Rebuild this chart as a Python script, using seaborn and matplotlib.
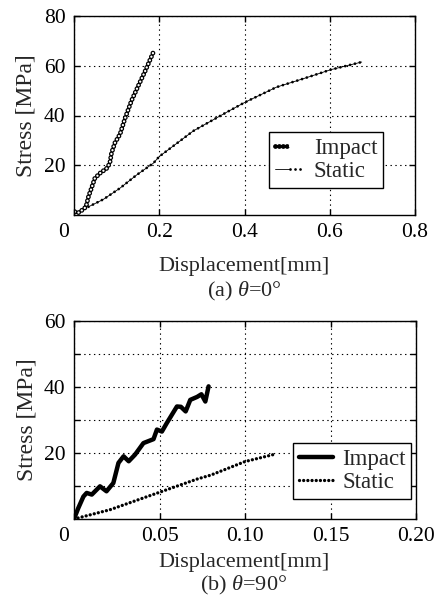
import seaborn as sns
import matplotlib
import matplotlib.pyplot as plt
import matplotlib.transforms as mtransforms
from matplotlib.lines import Line2D
from matplotlib.legend_handler import HandlerTuple
import pandas as pd
import numpy as np

# (a) theta = 0 deg
impact0_x = [0.002, 0.010, 0.022, 0.028, 0.034, 0.041, 0.049, 0.061, 0.077, 0.084,
             0.088, 0.096, 0.108, 0.120, 0.135, 0.151, 0.166, 0.182, 0.186]
impact0_y = [1.3, 0.9, 2.3, 3.3, 7.4, 10.8, 14.8, 16.8, 18.8, 20.8,
             24.9, 29.0, 32.5, 39.0, 46.0, 52.0, 57.5, 63.8, 65.4]
static0_x = [0.034, 0.069, 0.108, 0.147, 0.186, 0.200, 0.280, 0.358, 0.401, 0.475,
             0.538, 0.602, 0.675]
static0_y = [3.3, 6.3, 10.8, 16.1, 20.8, 23.5, 33.8, 41.3, 45.3, 51.4,
             54.8, 58.4, 61.5]

# (b) theta = 90 deg
impact90_x = [0.0, 0.0025, 0.0055, 0.0074, 0.0104, 0.0152, 0.019, 0.023, 0.026, 0.029,
              0.032, 0.0357, 0.0406, 0.0465, 0.0485, 0.0514, 0.0543, 0.0602, 0.0625,
              0.0653, 0.068, 0.072, 0.0745, 0.0768, 0.0787]
impact90_y = [0.0, 3.3, 6.8, 7.9, 7.4, 9.9, 8.4, 10.9, 17.0, 19.0,
              17.5, 19.5, 23.0, 24.2, 27.1, 26.5, 29.1, 34.1, 34.0,
              32.6, 36.1, 37.0, 37.8, 35.6, 40.2]
static90_x = [0.0, 0.021, 0.0445, 0.05, 0.072, 0.080, 0.100, 0.118]
static90_y = [0.0, 2.8, 7.1, 8.1, 12.1, 13.3, 17.4, 19.7]

sns.set_style("ticks")
plt.rcParams.update(
    {
        "font.family": ["Liberation Serif", "DejaVu Serif"],
        "mathtext.fontset": "custom",
        "mathtext.rm": "Liberation Serif",
        "mathtext.it": "Liberation Serif:italic",
        "font.size": 15.5,
        "lines.scale_dashes": False,
        "axes.edgecolor": "black",
        "axes.linewidth": 1.0,
        "xtick.direction": "in",
        "ytick.direction": "in",
        "xtick.color": "black",
        "ytick.color": "black",
        "xtick.major.size": 4,
        "ytick.major.size": 4,
    }
)

fig = plt.figure(figsize=(4.38, 6.08), dpi=100)
ax1 = fig.add_axes([74 / 438, 1 - 215 / 608, 341 / 438, 199 / 608])
ax2 = fig.add_axes([74 / 438, 1 - 519 / 608, 342 / 438, 198 / 608])

ring_out = (0, (0.01, 2.8))
dot_small = (0, (0.01, 3.6))
dot_b = (0, (0.01, 3.0))

# top panel
df_i0 = pd.DataFrame({"x": impact0_x, "y": impact0_y})
df_s0 = pd.DataFrame({"x": static0_x, "y": static0_y})
sns.lineplot(data=df_i0, x="x", y="y", ax=ax1, sort=False, estimator=None,
             color="black", lw=3.5, linestyle=ring_out, dash_capstyle="round")
sns.lineplot(data=df_i0, x="x", y="y", ax=ax1, sort=False, estimator=None,
             color="white", lw=1.7, linestyle=ring_out, dash_capstyle="round")
sns.lineplot(data=df_s0, x="x", y="y", ax=ax1, sort=False, estimator=None,
             color="black", lw=0.6)
sns.lineplot(data=df_s0, x="x", y="y", ax=ax1, sort=False, estimator=None,
             color="black", lw=2.0, linestyle=dot_small, dash_capstyle="round")

# bottom panel
df_i90 = pd.DataFrame({"x": impact90_x, "y": impact90_y})
df_s90 = pd.DataFrame({"x": static90_x, "y": static90_y})
sns.lineplot(data=df_i90, x="x", y="y", ax=ax2, sort=False, estimator=None,
             color="black", lw=3.2, solid_capstyle="round", solid_joinstyle="round")
sns.lineplot(data=df_s90, x="x", y="y", ax=ax2, sort=False, estimator=None,
             color="black", lw=2.4, linestyle=dot_b, dash_capstyle="round")

ax1.set_xlim(0, 0.8)
ax1.set_ylim(0, 80)
ax1.set_xticks([0, 0.2, 0.4, 0.6, 0.8])
ax1.set_xticklabels(["0", "0.2", "0.4", "0.6", "0.8"])
ax1.set_yticks([20, 40, 60, 80])
ax1.set_yticklabels(["20", "40", "60", "80"])

ax2.set_xlim(0, 0.2)
ax2.set_ylim(0, 60)
ax2.set_xticks([0, 0.05, 0.10, 0.15, 0.20])
ax2.set_xticklabels(["0", "0.05", "0.10", "0.15", "0.20"])
ax2.set_yticks([10, 20, 30, 40, 50, 60])
ax2.set_yticklabels(["", "20", "", "40", "", "60"])

for ax in (ax1, ax2):
    ax.grid(True, color="black", linestyle=(0, (1, 2.5)), lw=0.8)
    ax.tick_params(top=True, right=True, labelsize=15.5, pad=6, width=1)
    ax.set_xlabel("")
    ax.set_ylabel("Stress [MPa]", fontsize=17, labelpad=5)
    lbl = ax.get_xticklabels()[0]
    lbl.set_transform(lbl.get_transform()
                      + mtransforms.ScaledTranslation(-10 / 100, 0, fig.dpi_scale_trans))
    for s in ax.spines.values():
        s.set_visible(True)

# legends
h_imp0 = (Line2D([], [], color="black", lw=3.5, linestyle=ring_out, dash_capstyle="round"),
          Line2D([], [], color="white", lw=1.7, linestyle=ring_out, dash_capstyle="round"))
h_sta0 = (Line2D([], [], color="black", lw=0.6),
          Line2D([], [], color="black", lw=2.0, linestyle=dot_small, dash_capstyle="round"))
leg1 = ax1.legend([h_imp0, h_sta0], ["Impact", "Static"],
                  handler_map={tuple: HandlerTuple(ndivide=None, pad=0)},
                  loc="lower left", bbox_to_anchor=(0.572, 0.136), borderaxespad=0,
                  fontsize=16.5, frameon=True, fancybox=False, edgecolor="black",
                  framealpha=1, handlelength=1.3, handletextpad=0.4,
                  labelspacing=0.1, borderpad=0.25)
leg1.get_frame().set_linewidth(1.0)

h_imp90 = Line2D([], [], color="black", lw=3.2, solid_capstyle="round")
h_sta90 = Line2D([], [], color="black", lw=2.4, linestyle=dot_b, dash_capstyle="round")
leg2 = ax2.legend([h_imp90, h_sta90], ["Impact", "Static"],
                  loc="lower left", bbox_to_anchor=(0.640, 0.101), borderaxespad=0,
                  fontsize=16.5, frameon=True, fancybox=False, edgecolor="black",
                  framealpha=1, handlelength=1.5, handletextpad=0.4,
                  labelspacing=0.1, borderpad=0.25)
leg2.get_frame().set_linewidth(1.0)

# axis titles and captions
fig.text(244 / 438, 1 - 267 / 608, "Displacement[mm]", ha="center", va="center", fontsize=16)
fig.text(244 / 438, 1 - 291 / 608, r"(a) $\theta$=0°", ha="center", va="center", fontsize=16)
fig.text(244 / 438, 1 - 562 / 608, "Displacement[mm]", ha="center", va="center", fontsize=16)
fig.text(244 / 438, 1 - 585 / 608, r"(b) $\theta$=90°", ha="center", va="center", fontsize=16)

fig.savefig("out.png", dpi=100)
